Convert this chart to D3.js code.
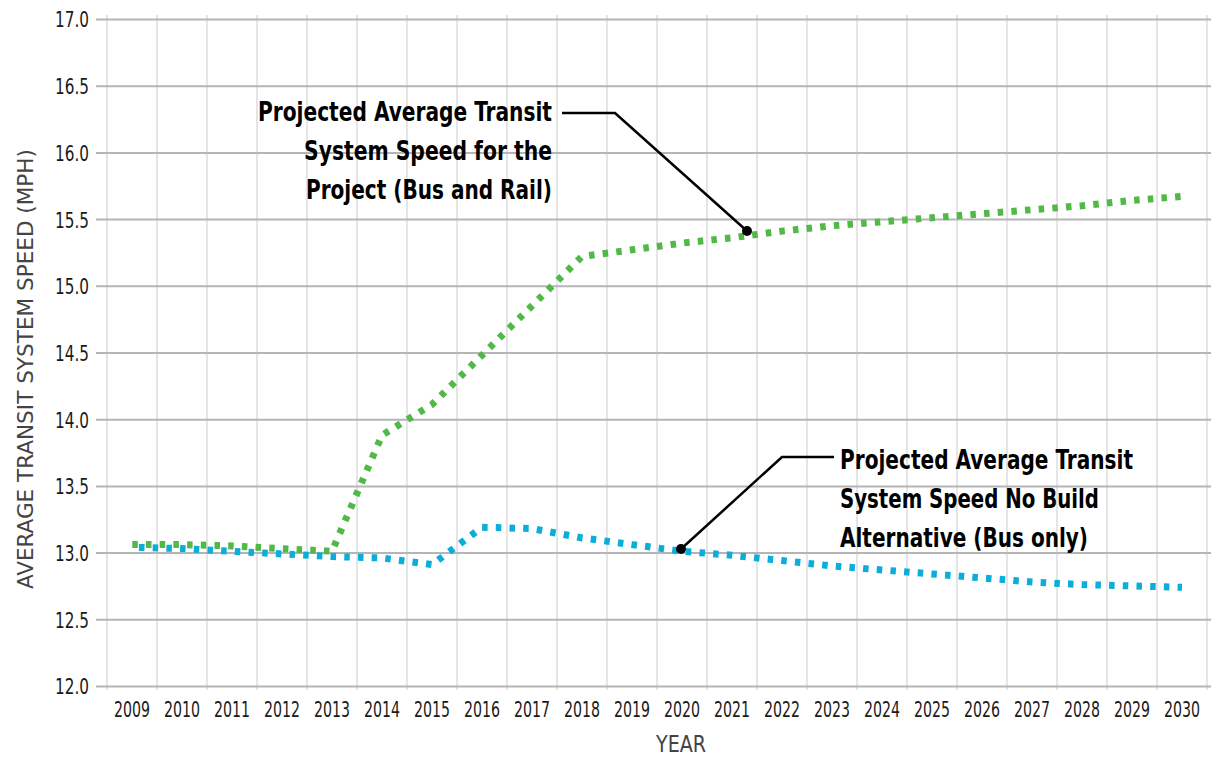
<!DOCTYPE html>
<html>
<head>
<meta charset="utf-8">
<script src="https://cdn.jsdelivr.net/npm/d3@7"></script>
<style>
  body { margin: 0; background: #fff; }
  svg { display: block; }
  text { font-family: "DejaVu Sans Condensed", "Liberation Sans Narrow", "DejaVu Sans", sans-serif; font-stretch: condensed; }
  .tick text { font-size: 22px; fill: #1a1a1a; }
  .note { font-weight: bold; font-size: 27px; fill: #000; }
  .title { font-size: 21px; fill: #444; font-weight: 200; }
</style>
</head>
<body>
<svg id="chart" width="1217" height="758"></svg>
<script>
// chart data
const years = d3.range(2009, 2031).map(String);
const yTicks = [12.0, 12.5, 13.0, 13.5, 14.0, 14.5, 15.0, 15.5, 16.0, 16.5, 17.0];

// Projected speed for the project (bus and rail)
const projectSpeed = [13.06, 13.06, 13.05, 13.03, 13.01, 13.88, 14.11, 14.48, 14.85, 15.22,
                      15.27, 15.32, 15.36, 15.41, 15.45, 15.48, 15.51, 15.54, 15.57, 15.60, 15.64, 15.67];
// Projected speed, no build alternative (bus only)
const noBuildSpeed = [13.04, 13.03, 13.01, 12.99, 12.97, 12.96, 12.91, 13.19, 13.18, 13.11,
                      13.06, 13.01, 12.98, 12.94, 12.90, 12.87, 12.84, 12.81, 12.78, 12.76, 12.75, 12.74];

const noteProject = ["Projected Average Transit", "System Speed for the", "Project (Bus and Rail)"];
const noteNoBuild = ["Projected Average Transit", "System Speed No Build", "Alternative (Bus only)"];

const svg = d3.select("#chart");

const x = d3.scaleBand().domain(years).range([107, 1207]);
const y = d3.scaleLinear().domain([12, 17]).range([686, 19]);
const cx = d => x(d) + x.bandwidth() / 2;

// vertical grid (category boundaries)
const bounds = years.map(d => x(d)).concat([x.range()[1]]);
svg.append("g").selectAll("line")
    .data(bounds)
    .join("line")
    .attr("x1", d => d).attr("x2", d => d)
    .attr("y1", 15).attr("y2", 690)
    .attr("stroke", "#dcdcdc")
    .attr("stroke-width", 1.5);

// horizontal grid + y labels
const yAxis = svg.append("g")
    .attr("transform", "translate(96,0)")
    .call(d3.axisLeft(y).tickValues(yTicks).tickFormat(d3.format(".1f")).tickSize(-1115));
yAxis.select(".domain").remove();
yAxis.selectAll(".tick line").attr("stroke", "#b5b5b5").attr("stroke-width", 2);
yAxis.selectAll(".tick text")
    .attr("x", -7).attr("dy", "0.36em")
    .attr("textLength", 34).attr("lengthAdjust", "spacingAndGlyphs");

// x labels
const xAxis = svg.append("g")
    .attr("transform", "translate(0,686)")
    .call(d3.axisBottom(x).tickSize(0).tickPadding(15));
xAxis.select(".domain").remove();
xAxis.selectAll(".tick text")
    .attr("textLength", 36).attr("lengthAdjust", "spacingAndGlyphs");

// axis titles
svg.append("text")
    .attr("class", "title")
    .attr("transform", "translate(33,369) rotate(-90)")
    .attr("text-anchor", "middle")
    .attr("textLength", 440)
    .attr("lengthAdjust", "spacingAndGlyphs")
    .text("AVERAGE TRANSIT SYSTEM SPEED (MPH)");

svg.append("text")
    .attr("class", "title")
    .attr("x", 681).attr("y", 752)
    .attr("text-anchor", "middle")
    .style("font-size", "23px")
    .attr("textLength", 50)
    .attr("lengthAdjust", "spacingAndGlyphs")
    .text("YEAR");

// lines
const line = d3.line()
    .x((d, i) => cx(years[i]))
    .y(d => y(d));

svg.append("path")
    .datum(noBuildSpeed)
    .attr("d", line)
    .attr("fill", "none")
    .attr("stroke", "#0badd9")
    .attr("stroke-width", 7)
    .attr("stroke-dasharray", "5.5 8.2")
    .attr("stroke-dashoffset", 6.7);

svg.append("path")
    .datum(projectSpeed)
    .attr("d", line)
    .attr("fill", "none")
    .attr("stroke", "#52b848")
    .attr("stroke-width", 7)
    .attr("stroke-dasharray", "5.5 8.2")
    .attr("stroke-dashoffset", -0.3);

// callouts
function callout(lines, tx, ty, anchor, widths, path, dot) {
    svg.append("path")
        .attr("d", d3.line()(path))
        .attr("fill", "none")
        .attr("stroke", "#000")
        .attr("stroke-width", 2.5);
    svg.append("circle")
        .attr("cx", dot[0]).attr("cy", dot[1]).attr("r", 5)
        .attr("fill", "#000");
    svg.append("g").selectAll("text")
        .data(lines)
        .join("text")
        .attr("class", "note")
        .attr("x", tx)
        .attr("y", (d, i) => ty + i * 39)
        .attr("text-anchor", anchor)
        .attr("textLength", (d, i) => widths[i])
        .attr("lengthAdjust", "spacingAndGlyphs")
        .text(d => d);
}

callout(noteProject, 552, 121, "end", [294, 248, 246],
    [[562, 113], [615, 113], [747, 231]], [747, 231]);
callout(noteNoBuild, 840, 469, "start", [293, 259, 248],
    [[834, 457], [782, 457], [681, 549]], [681, 549]);
</script>
</body>
</html>
